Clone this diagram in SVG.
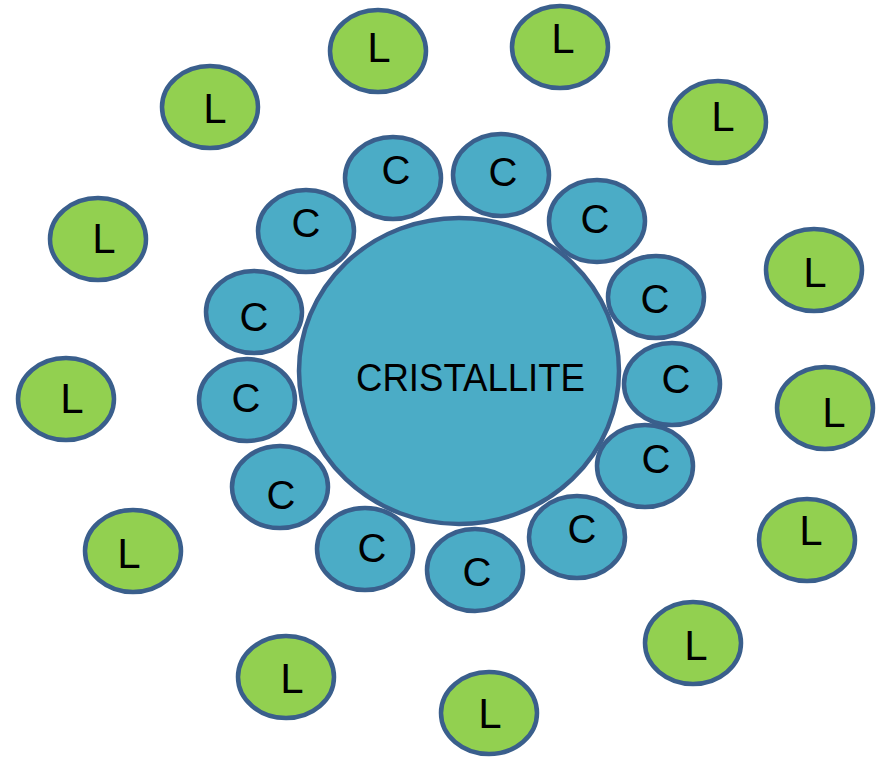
<svg xmlns="http://www.w3.org/2000/svg" width="879" height="757" viewBox="0 0 879 757">
<style>
.c{fill:#4BACC6;stroke:#3A5F8C;stroke-width:4.5}
.l{fill:#92D050;stroke:#3A5F8C;stroke-width:4.5}
.t{font-family:"Liberation Sans",Arial,sans-serif;fill:#000;text-anchor:middle}
.tc{font-size:40px}
.tl{font-size:42px}
</style>
<rect width="879" height="757" fill="#fff"/>
<g id="cristallite">
<ellipse class="c" cx="459" cy="371" rx="160" ry="153"/>
<text class="t" x="470.5" y="391" font-size="38" textLength="229" lengthAdjust="spacingAndGlyphs">CRISTALLITE</text>
</g>
<g id="c1"><ellipse class="c" cx="393" cy="178" rx="48" ry="41"/><text class="t tc" x="396" y="184">C</text></g>
<g id="c2"><ellipse class="c" cx="501" cy="175" rx="48" ry="41"/><text class="t tc" x="503" y="186">C</text></g>
<g id="c3"><ellipse class="c" cx="597" cy="221" rx="48" ry="41"/><text class="t tc" x="595" y="233">C</text></g>
<g id="c4"><ellipse class="c" cx="656" cy="297" rx="48" ry="41"/><text class="t tc" x="655" y="313">C</text></g>
<g id="c5"><ellipse class="c" cx="672" cy="384" rx="48" ry="41"/><text class="t tc" x="676" y="393">C</text></g>
<g id="c6"><ellipse class="c" cx="645" cy="466" rx="48" ry="41"/><text class="t tc" x="656" y="473">C</text></g>
<g id="c7"><ellipse class="c" cx="577" cy="537" rx="48" ry="41"/><text class="t tc" x="582" y="543">C</text></g>
<g id="c8"><ellipse class="c" cx="475" cy="570" rx="48" ry="41"/><text class="t tc" x="477" y="586">C</text></g>
<g id="c9"><ellipse class="c" cx="365" cy="549" rx="48" ry="41"/><text class="t tc" x="372" y="562">C</text></g>
<g id="c10"><ellipse class="c" cx="280" cy="487" rx="48" ry="41"/><text class="t tc" x="281" y="509">C</text></g>
<g id="c11"><ellipse class="c" cx="247" cy="400" rx="48" ry="41"/><text class="t tc" x="246" y="412">C</text></g>
<g id="c12"><ellipse class="c" cx="254" cy="312" rx="48" ry="41"/><text class="t tc" x="254" y="331">C</text></g>
<g id="c13"><ellipse class="c" cx="306" cy="231" rx="48" ry="41"/><text class="t tc" x="306" y="237">C</text></g>
<g id="l1"><ellipse class="l" cx="378" cy="51" rx="48" ry="41"/><text class="t tl" x="379" y="62">L</text></g>
<g id="l2"><ellipse class="l" cx="560" cy="47" rx="48" ry="41"/><text class="t tl" x="563" y="53">L</text></g>
<g id="l3"><ellipse class="l" cx="718" cy="122" rx="48" ry="41"/><text class="t tl" x="723" y="131">L</text></g>
<g id="l4"><ellipse class="l" cx="814" cy="270" rx="48" ry="41"/><text class="t tl" x="815" y="287">L</text></g>
<g id="l5"><ellipse class="l" cx="825" cy="408" rx="48" ry="41"/><text class="t tl" x="834" y="427">L</text></g>
<g id="l6"><ellipse class="l" cx="807" cy="540" rx="48" ry="41"/><text class="t tl" x="811" y="545">L</text></g>
<g id="l7"><ellipse class="l" cx="693" cy="643" rx="48" ry="41"/><text class="t tl" x="696" y="660">L</text></g>
<g id="l8"><ellipse class="l" cx="489" cy="713" rx="48" ry="41"/><text class="t tl" x="490" y="728">L</text></g>
<g id="l9"><ellipse class="l" cx="286" cy="677" rx="48" ry="41"/><text class="t tl" x="292" y="693">L</text></g>
<g id="l10"><ellipse class="l" cx="133" cy="551" rx="48" ry="41"/><text class="t tl" x="129" y="568">L</text></g>
<g id="l11"><ellipse class="l" cx="66" cy="399" rx="48" ry="41"/><text class="t tl" x="72" y="413">L</text></g>
<g id="l12"><ellipse class="l" cx="98" cy="239" rx="48" ry="41"/><text class="t tl" x="104" y="253">L</text></g>
<g id="l13"><ellipse class="l" cx="210" cy="107" rx="48" ry="41"/><text class="t tl" x="215" y="123">L</text></g>
<g id="connectors"/>
</svg>
